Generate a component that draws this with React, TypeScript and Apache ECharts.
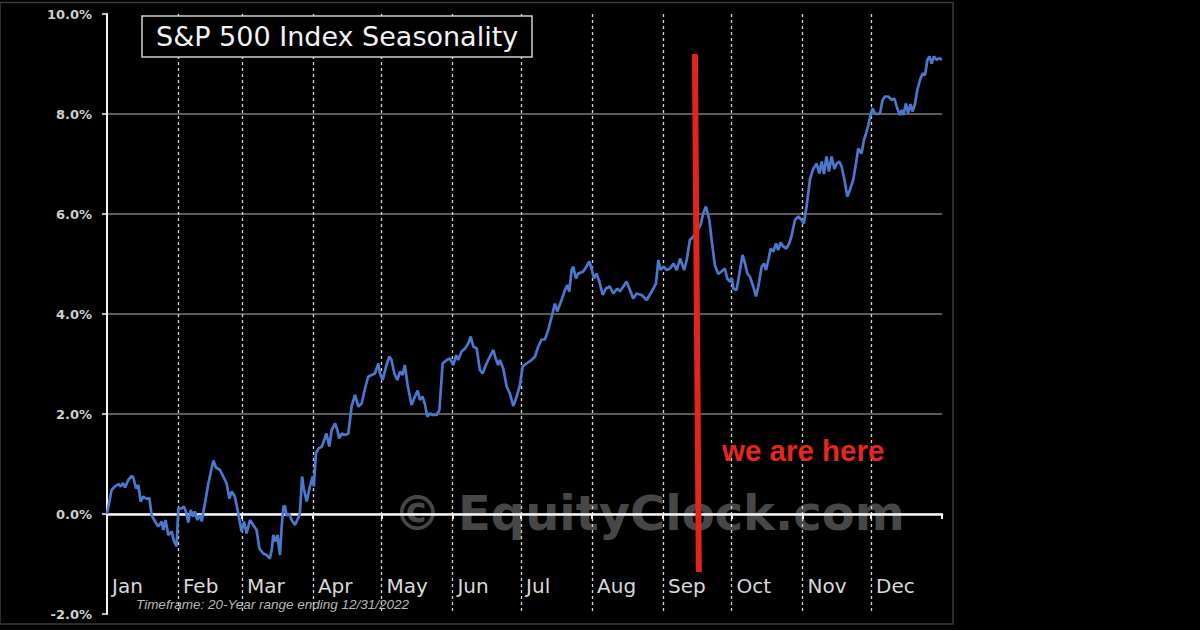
import React, { useEffect, useRef } from "react";
import * as echarts from "echarts";

// ---- data (day of year, seasonal % return) ----
const days: number[] = [
  0, 2.0, 3.5, 5, 6, 7, 7.9, 9.3, 10.8, 11.5, 12.7, 13.7, 14.7, 15.9, 17.3, 18.5, 19.5, 21, 22.4, 23.9,
  24.6, 25.6, 26.8, 28.3, 29.3, 30.4, 31.2, 32.6, 33.6, 34.5, 35.5, 36.6, 37.7, 38.4, 39.5, 40.6, 41.4, 42.8, 44.3, 45.7,
  46.5, 47.6, 49.4, 50.8, 52.3, 53.5, 54.5, 55.9, 57.4, 58.8, 59.9, 61, 62.5, 63.9, 65.4, 66.6, 68.3, 69.8, 71.2, 72.0,
  72.7, 73.7, 74.5, 75.6, 76.3, 77.1, 77.8, 78.5, 79.7, 80.7, 82.2, 83.6, 84.3, 85.3, 86.0, 87.3, 88.7, 89.9, 90.4, 91.3,
  92.4, 93.9, 95.2, 95.9, 97.2, 98.2, 99.7, 100.7, 101.5, 102.6, 104, 105.5, 106.9, 108.4, 109.9, 111.3, 112.8, 114.2, 115.7, 117.1,
  118.6, 119.3, 120.5, 122, 123.4, 124.4, 125.6, 126.9, 128.1, 129.2, 130.2, 131.3, 133.1, 134.6, 135.8, 136.8, 137.9, 138.9, 140, 141.2,
  142.3, 144.1, 145.3, 146.7, 148.5, 149.9, 151.4, 152.6, 153.5, 155, 156.5, 157.9, 159, 160.1, 161.6, 163, 164.2, 165.9, 167.4, 168.9,
  169.9, 171, 171.7, 173.2, 174.7, 176.1, 177.6, 179.1, 180.5, 181.7, 183.4, 185.6, 187.1, 188.5, 190, 191.4, 192.9, 194.4, 195.8, 196.8,
  198.7, 200.2, 201.2, 202.1, 203.1, 203.8, 205, 206, 208.2, 209.6, 210.8, 211.8, 212.9, 214, 215.2, 216.7, 218.1, 219.8, 221.3, 223.1,
  224.2, 225.7, 227.1, 228.6, 230, 231.5, 233.7, 235.9, 238.1, 240, 241, 242, 243.2, 244.6, 246.1, 247.6, 249.1, 250.5, 252.3, 253.4,
  254.8, 256.3, 257.8, 259.6, 260.6, 261.8, 263.3, 264.3, 265.7, 267.2, 268.6, 270.1, 271.1, 272.3, 273.1, 273.8, 275.2, 276.7, 277.8, 278.9,
  279.9, 281.0, 282.5, 283.7, 284.7, 286.2, 287.2, 288.1, 289.1, 290.1, 291.3, 292.4, 293.4, 294.4, 295.6, 297, 298.2, 299.2, 300.7, 302.2,
  303.6, 304.6, 305.8, 307.3, 308.7, 310.2, 311.4, 312.4, 313.4, 314.5, 315.6, 316.7, 318, 319, 320.1, 321.1, 322.3, 323.6, 324.7, 326.2,
  327.4, 328.4, 329.8, 330.9, 331.8, 332.8, 333.8, 334.7, 335.7, 336.8, 337.9, 339, 340.1, 341.5, 343, 344.2, 345.4, 346.6, 347.4, 348.1,
  349.2, 350.2, 351.2, 352.1, 353.2, 354.2, 355.4, 356.5, 357.6, 358.6, 359.5, 360.5, 361.5, 362.7, 363.9, 364.9,
];

const seasonality: number[] = [
  0.0, 0.48, 0.55, 0.6, 0.55, 0.62, 0.53, 0.68, 0.76, 0.73, 0.51, 0.58, 0.25, 0.35, 0.3, 0.32, -0.02, -0.15, -0.25, -0.15,
  -0.32, -0.12, -0.42, -0.35, -0.55, -0.65, 0.11, 0.11, 0.15, 0.05, -0.17, 0.08, -0.05, 0.05, -0.12, -0.02, -0.15, 0.21, 0.61, 0.91,
  1.07, 0.93, 0.88, 0.75, 0.61, 0.31, 0.45, 0.35, 0.01, -0.35, -0.15, -0.39, -0.12, -0.22, -0.32, -0.69, -0.79, -0.82, -0.89, -0.72,
  -0.42, -0.55, -0.42, -0.82, -0.29, 0.15, 0.16, -0.03, 0.0, -0.12, -0.22, -0.08, 0.01, 0.75, 0.51, 0.25, 0.55, 0.75, 0.55, 1.21,
  1.31, 1.35, 1.51, 1.61, 1.35, 1.68, 1.81, 1.68, 1.51, 1.61, 1.58, 1.61, 2.15, 2.38, 2.15, 2.21, 2.51, 2.75, 2.78, 2.81,
  3.01, 2.81, 2.68, 2.95, 3.15, 3.08, 2.81, 2.68, 2.85, 2.78, 2.98, 2.61, 2.18, 2.35, 2.47, 2.28, 2.35, 2.21, 1.95, 2.01,
  1.98, 1.98, 2.08, 3.01, 3.08, 3.11, 2.98, 3.18, 3.08, 3.25, 3.31, 3.41, 3.55, 3.35, 3.31, 2.88, 2.81, 3.01, 3.15, 3.28,
  3.11, 2.98, 3.08, 2.91, 2.55, 2.41, 2.16, 2.35, 2.58, 2.95, 3.01, 3.08, 3.15, 3.35, 3.49, 3.49, 3.68, 3.95, 4.21, 4.05,
  4.28, 4.48, 4.58, 4.45, 4.88, 4.95, 4.71, 4.81, 4.85, 4.95, 5.05, 4.91, 4.71, 4.81, 4.65, 4.38, 4.51, 4.55, 4.41, 4.51,
  4.45, 4.55, 4.65, 4.48, 4.31, 4.41, 4.38, 4.28, 4.45, 4.61, 5.08, 4.88, 4.95, 4.88, 4.91, 5.01, 4.88, 5.11, 4.88, 5.08,
  5.48, 5.55, 5.65, 5.8, 6.01, 6.15, 5.88, 5.48, 4.98, 4.8, 4.85, 4.91, 4.71, 4.65, 4.72, 4.51, 4.48, 4.88, 5.18, 5.01,
  4.81, 4.75, 4.55, 4.35, 4.55, 4.95, 5.01, 4.88, 5.08, 5.31, 5.25, 5.41, 5.28, 5.43, 5.35, 5.31, 5.41, 5.55, 5.88, 5.95,
  5.88, 5.81, 6.15, 6.7, 6.9, 7.01, 6.81, 7.05, 6.8, 7.15, 6.85, 7.15, 6.9, 7.01, 7.05, 6.95, 6.7, 6.35, 6.48, 6.68,
  7.01, 7.31, 7.21, 7.48, 7.61, 7.78, 7.98, 8.11, 8.01, 8.0, 8.01, 8.28, 8.35, 8.35, 8.28, 8.31, 8.12, 7.98, 8.08, 7.98,
  8.21, 8.01, 8.2, 8.05, 8.2, 8.48, 8.68, 8.81, 8.78, 9.08, 9.15, 9.01, 9.15, 9.08, 9.12, 9.08,
];

const months: string[] = ["Jan", "Feb", "Mar", "Apr", "May", "Jun", "Jul", "Aug", "Sep", "Oct", "Nov", "Dec"];
const monthStartDays: number[] = [0, 31, 59, 90, 120, 151, 181, 212, 243, 273, 304, 334];
const yTicks: number[] = [-2, 0, 2, 4, 6, 8, 10];

// "we are here" marker: [day, value] at top and bottom of the red line
const markerTop: number[] = [257.0, 9.2];
const markerBottom: number[] = [258.7, -1.16];

const titleText = "S&P 500 Index Seasonality";
const markerText = "we are here";
const watermarkText = "© EquityClock.com";
const footnoteText = "Timeframe: 20-Year range ending 12/31/2022";

const LABEL_SHIFT = 2.2; // days to the right of each month boundary

export default function App() {
  const ref = useRef<HTMLDivElement>(null);

  useEffect(() => {
    document.body.style.margin = "0";
    document.body.style.background = "#000";
    if (!ref.current) return;
    const chart = echarts.init(ref.current, null, { renderer: "svg" });

    const lineData = days.map((d, i) => [d, seasonality[i]]);
    const labelValues = monthStartDays.map((d) => d + LABEL_SHIFT);

    const option: any = {
      animation: false,
      backgroundColor: "#000",
      title: {
        text: titleText,
        left: 142,
        top: 16,
        padding: [6, 14, 6, 14],
        borderColor: "#cfcfcf",
        borderWidth: 1.5,
        backgroundColor: "#000",
        textStyle: {
          color: "#f2f2f2",
          fontFamily: "DejaVu Sans",
          fontSize: 27,
          fontWeight: "normal",
          lineHeight: 29,
        },
      },
      grid: {
        left: 107,
        right: 258,
        top: 14,
        bottom: 16,
        containLabel: false,
        outerBoundsMode: "none",
      },
      xAxis: [
        {
          // month labels and dashed month dividers
          type: "value",
          position: "bottom",
          min: 0,
          max: 365,
          z: 0,
          axisLine: { show: false, onZero: false },
          axisTick: { show: false, customValues: monthStartDays.slice(1) },
          splitLine: {
            show: true,
            lineStyle: { color: "#d8d8d8", width: 1.3, type: [3, 3] },
          },
          axisLabel: {
            show: true,
            inside: true,
            customValues: labelValues,
            margin: 18,
            align: "left",
            color: "#d9d9d9",
            fontFamily: "DejaVu Sans",
            fontSize: 20,
            formatter: (v: number) => {
              const i = labelValues.findIndex((lv) => Math.abs(lv - v) < 0.01);
              return i >= 0 ? months[i] : "";
            },
          },
        },
        {
          // zero line with month ticks
          type: "value",
          position: "top",
          min: 0,
          max: 365,
          z: 1,
          axisLine: { show: true, onZero: true, lineStyle: { color: "#f4f4f4", width: 2.5 } },
          axisTick: {
            show: true,
            inside: true,
            customValues: monthStartDays.slice(1).concat([365]),
            length: 5,
            lineStyle: { color: "#f4f4f4", width: 2 },
          },
          splitLine: { show: false },
          axisLabel: { show: false },
        },
      ],
      yAxis: {
        type: "value",
        min: yTicks[0],
        max: yTicks[yTicks.length - 1],
        interval: 2,
        z: 0,
        axisLine: { show: true, onZero: false, lineStyle: { color: "#f4f4f4", width: 2 } },
        axisTick: { show: true, length: 5, lineStyle: { color: "#f4f4f4", width: 1.5 } },
        splitLine: {
          show: true,
          showMinLine: false,
          showMaxLine: false,
          lineStyle: { color: "#7a7a7a", width: 1.5 },
        },
        axisLabel: {
          margin: 15,
          color: "#cfcfcf",
          fontFamily: "DejaVu Sans",
          fontWeight: "bold",
          fontSize: 13,
          formatter: (v: number) => v.toFixed(1) + "%",
        },
      },
      graphic: [
        {
          type: "rect",
          z: -20,
          silent: true,
          shape: { x: 0, y: 2.5, width: 953, height: 621.5 },
          style: { fill: "none", stroke: "#3a3a3a", lineWidth: 1.5 },
        },
        {
          type: "text",
          z: -10,
          silent: true,
          x: 649,
          y: 513,
          style: {
            text: watermarkText,
            fill: "rgba(135,135,135,0.55)",
            font: "bold 48px 'DejaVu Sans'",
            align: "center",
            verticalAlign: "middle",
          },
        },
        {
          type: "text",
          z: 10,
          silent: true,
          x: 722,
          y: 450,
          style: {
            text: markerText,
            fill: "#e8261e",
            font: "bold 29.5px 'Liberation Sans'",
            align: "left",
            verticalAlign: "middle",
          },
        },
        {
          type: "text",
          z: 10,
          silent: true,
          x: 136,
          y: 604,
          style: {
            text: footnoteText,
            fill: "#b8b8b8",
            font: "italic 13.5px 'Liberation Sans'",
            align: "left",
            verticalAlign: "middle",
          },
        },
      ],
      series: [
        {
          type: "line",
          xAxisIndex: 0,
          data: lineData,
          showSymbol: false,
          symbol: "none",
          z: 2,
          lineStyle: { color: "#4a78cc", width: 2.7 },
          markLine: {
            silent: true,
            symbol: ["none", "none"],
            z: 5,
            label: { show: false },
            lineStyle: { color: "#e3241b", width: 6, type: "solid" },
            data: [[{ coord: markerTop }, { coord: markerBottom }]],
          },
        },
      ],
    };

    chart.setOption(option);
    return () => chart.dispose();
  }, []);

  return <div ref={ref} style={{ width: 1200, height: 630 }} />;
}
